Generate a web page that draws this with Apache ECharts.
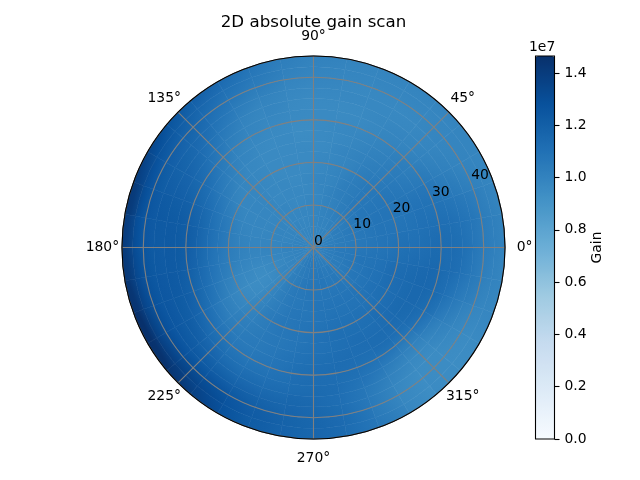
<!DOCTYPE html>
<html><head><meta charset="utf-8">
<script src="https://cdn.jsdelivr.net/npm/echarts@6/dist/echarts.min.js"></script>
<style>html,body{margin:0;padding:0;background:#fff}#c{width:640px;height:480px}</style>
</head><body><div id="c"></div>
<script>
const titleText = '2D absolute gain scan';
const barName = 'Gain';
const barExponent = '1e7';
const gainMax = 1.465e7;
const gainUnit = 1e6;
const blues = ['#f7fbff','#deebf7','#c6dbef','#9ecae1','#6baed6','#4292c6','#2171b5','#08519c','#08306b'];
const radiusTicks = [0,10,20,30,40];
const angleTicks = [0,45,90,135,180,225,270,315];
const radiusMax = 45;
const ringStep = 2.5;
const sectorStep = 10;
// one row per 10 degree sector (from 0), one column per 2.5 unit ring (from 0), in units of 1e6
const gainRows = [
[10.2,10.3,10.4,10.5,10.6,10.7,10.8,10.9,11.0,11.0,11.1,11.2,11.2,11.1,10.9,10.6,10.3,10.1],
[10.1,10.2,10.4,10.5,10.6,10.7,10.8,10.8,10.8,10.9,11.0,11.0,11.0,10.9,10.7,10.5,10.2,10.0],
[10.1,10.2,10.3,10.5,10.6,10.7,10.8,10.8,10.8,10.8,10.8,10.8,10.7,10.5,10.3,10.1,10.0,9.9],
[10.0,10.1,10.3,10.4,10.6,10.7,10.7,10.7,10.7,10.6,10.5,10.4,10.3,10.1,10.0,9.9,9.9,9.9],
[10.0,10.1,10.2,10.3,10.5,10.6,10.6,10.6,10.5,10.4,10.3,10.2,10.0,9.9,9.8,9.8,9.8,9.9],
[10.0,10.0,10.1,10.2,10.3,10.4,10.4,10.4,10.3,10.2,10.1,10.0,9.9,9.8,9.7,9.7,9.8,9.9],
[9.9,10.0,10.0,10.1,10.1,10.2,10.2,10.1,10.0,10.0,9.9,9.8,9.7,9.7,9.7,9.7,9.8,9.9],
[9.9,9.9,10.0,10.0,10.0,10.0,9.9,9.9,9.8,9.8,9.7,9.7,9.6,9.6,9.7,9.7,9.8,9.9],
[9.9,9.9,9.9,9.9,9.8,9.8,9.8,9.7,9.7,9.6,9.6,9.6,9.6,9.6,9.7,9.8,9.9,10.0],
[9.9,9.9,9.9,9.8,9.8,9.7,9.7,9.6,9.6,9.6,9.5,9.5,9.6,9.6,9.7,9.8,10.0,10.1],
[9.9,9.9,9.8,9.8,9.7,9.7,9.6,9.6,9.6,9.6,9.6,9.6,9.7,9.8,9.9,10.1,10.3,10.5],
[9.9,9.9,9.8,9.8,9.7,9.7,9.7,9.6,9.6,9.6,9.6,9.7,9.8,9.9,10.1,10.4,10.7,11.0],
[10.0,9.9,9.9,9.8,9.8,9.7,9.7,9.7,9.7,9.7,9.8,9.9,10.1,10.3,10.6,10.9,11.2,11.6],
[10.0,9.9,9.9,9.8,9.8,9.8,9.8,9.8,9.8,9.9,10.1,10.3,10.6,10.9,11.2,11.5,11.8,12.2],
[10.0,10.0,9.9,9.9,9.8,9.8,9.8,9.8,9.9,10.2,10.5,10.9,11.2,11.5,11.7,11.9,12.3,12.9],
[10.0,10.0,9.9,9.9,9.8,9.8,9.8,9.9,10.2,10.6,11.0,11.4,11.7,11.9,12.0,12.2,12.7,13.5],
[10.0,10.0,9.9,9.9,9.8,9.8,9.9,10.1,10.5,10.9,11.4,11.8,12.1,12.2,12.3,12.4,12.9,14.0],
[10.0,10.0,10.0,9.9,9.9,9.9,10.0,10.2,10.6,11.0,11.5,12.0,12.2,12.3,12.3,12.4,12.8,13.8],
[10.0,10.0,10.0,9.9,9.9,9.9,10.0,10.2,10.5,10.9,11.4,11.9,12.2,12.3,12.3,12.5,13.0,14.0],
[10.0,10.0,9.9,9.8,9.7,9.7,9.8,10.0,10.3,10.7,11.2,11.7,12.1,12.3,12.4,12.6,13.2,14.3],
[10.0,10.0,9.9,9.7,9.6,9.5,9.6,9.7,10.0,10.4,10.9,11.4,11.9,12.2,12.4,12.7,13.4,14.6],
[10.1,10.0,9.9,9.8,9.6,9.5,9.5,9.6,9.8,10.1,10.5,11.0,11.5,12.0,12.3,12.7,13.5,14.5],
[10.1,10.1,10.0,9.9,9.8,9.8,9.8,9.9,10.0,10.2,10.4,10.7,11.1,11.6,12.1,12.6,13.4,14.0],
[10.2,10.2,10.2,10.2,10.2,10.2,10.2,10.3,10.3,10.4,10.5,10.6,10.9,11.3,11.8,12.4,13.0,13.3],
[10.3,10.4,10.4,10.4,10.5,10.5,10.5,10.6,10.6,10.6,10.6,10.7,10.9,11.2,11.6,12.1,12.4,12.5],
[10.3,10.5,10.5,10.6,10.6,10.6,10.7,10.7,10.7,10.7,10.8,10.9,11.0,11.2,11.5,11.8,12.0,12.0],
[10.3,10.5,10.6,10.7,10.7,10.7,10.7,10.8,10.8,10.9,11.0,11.1,11.2,11.3,11.5,11.6,11.7,11.7],
[10.3,10.5,10.6,10.7,10.7,10.8,10.8,10.9,11.0,11.0,11.1,11.2,11.2,11.3,11.3,11.4,11.5,11.5],
[10.3,10.4,10.6,10.7,10.7,10.8,10.9,11.0,11.1,11.1,11.2,11.2,11.1,11.0,10.9,10.9,11.0,11.0],
[10.3,10.4,10.5,10.6,10.7,10.8,10.9,11.0,11.1,11.2,11.2,11.1,10.9,10.6,10.3,10.2,10.2,10.3],
[10.2,10.3,10.5,10.6,10.7,10.8,10.9,11.0,11.1,11.2,11.3,11.1,10.6,10.1,9.8,9.6,9.6,9.6],
[10.2,10.3,10.4,10.5,10.6,10.8,10.9,11.0,11.2,11.3,11.3,11.0,10.4,9.9,9.6,9.5,9.5,9.5],
[10.2,10.3,10.4,10.5,10.7,10.8,11.0,11.1,11.2,11.4,11.4,11.2,10.7,10.1,9.8,9.6,9.5,9.5],
[10.2,10.3,10.4,10.6,10.7,10.9,11.0,11.2,11.3,11.4,11.5,11.4,11.1,10.6,10.2,9.9,9.7,9.7],
[10.2,10.3,10.5,10.6,10.8,10.9,11.0,11.2,11.3,11.4,11.5,11.5,11.3,11.0,10.6,10.3,10.0,9.9],
[10.2,10.3,10.5,10.6,10.7,10.8,10.9,11.0,11.1,11.2,11.3,11.4,11.3,11.2,10.9,10.5,10.2,10.0]
];
const radiusLabelAngle = 22.5;
const angleLabelRadius = 49.6;
const font = 'DejaVu Sans';
const textColor = '#000';
const fontSize = 13.9;

const cells = [];
gainRows.forEach((row, s) => row.forEach((v, r) => {
  cells.push([r * ringStep, (r + 1) * ringStep, s * sectorStep, (s + 1) * sectorStep, v * gainUnit, s, r]);
}));

function shade(v) {
  const t = Math.min(1, Math.max(0, v * gainUnit / gainMax));
  return echarts.color.lerp(t, blues);
}
// Each cell carries its read value at its centre and is painted with a gradient
// following the slope to its neighbouring cells (a shading style; the data is only gainRows).
function renderCell(params, api) {
  const cx = params.coordSys.cx, cy = params.coordSys.cy;
  const r0 = api.value(0), r1 = api.value(1), a0 = api.value(2), a1 = api.value(3);
  const s = api.value(5), r = api.value(6);
  const mid = (a0 + a1) / 2;
  const pIn = api.coord([r0, mid]), pOut = api.coord([r1, mid]);
  const theta = Math.atan2(-(pOut[1] - cy), pOut[0] - cx);
  const half = (a1 - a0) / 2 * Math.PI / 180;
  const pr0 = Math.hypot(pIn[0] - cx, pIn[1] - cy), pr1 = Math.hypot(pOut[0] - cx, pOut[1] - cy);
  const rm = (pr0 + pr1) / 2, dr = pr1 - pr0, da = Math.max(rm * 2 * half, 1);
  const n = gainRows.length, m = gainRows[0].length;
  const v = gainRows[s][r];
  const gA = (gainRows[(s + 1) % n][r] - gainRows[(s - 1 + n) % n][r]) / 2 / da;
  const rHi = Math.min(r + 1, m - 1), rLo = Math.max(r - 1, 0);
  const gR = (gainRows[s][rHi] - gainRows[s][rLo]) / (rHi - rLo) / dr;
  const er = [Math.cos(theta), -Math.sin(theta)], ea = [-Math.sin(theta), -Math.cos(theta)];
  const gx = gR * er[0] + gA * ea[0], gy = gR * er[1] + gA * ea[1];
  const mag = Math.hypot(gx, gy);
  const mx = cx + rm * er[0], my = cy + rm * er[1];
  let fill = shade(v);
  if (mag > 1e-6) {
    const ux = gx / mag, uy = gy / mag, t = Math.max(dr, da);
    const stops = [0, 0.25, 0.5, 0.75, 1].map(o => ({ offset: o, color: shade(v + (2 * o - 1) * t * mag) }));
    fill = new echarts.graphic.LinearGradient(mx - ux * t, my - uy * t, mx + ux * t, my + uy * t, stops, true);
  }
  return {
    type: 'sector',
    shape: { cx, cy, r0: pr0, r: pr1, startAngle: -theta - half, endAngle: -theta + half, clockwise: true },
    style: { fill, stroke: fill, lineWidth: 0.6 }
  };
}
function textEl(x, y, text, align, vAlign) {
  return { type: 'text', x, y,
    style: { text, fill: textColor, font: fontSize + 'px "' + font + '"', textAlign: align, textVerticalAlign: vAlign } };
}
function renderRadiusLabel(params, api) {
  const p = api.coord([api.value(0), radiusLabelAngle]);
  return textEl(p[0] + 0.5, p[1] + 0.5, String(api.value(0)), 'left', 'bottom');
}
function renderAngleLabel(params, api) {
  const p = api.coord([angleLabelRadius, api.value(0)]);
  return textEl(p[0], p[1], api.value(0) + '°', 'center', 'middle');
}

const chart = echarts.init(document.getElementById('c'), null, { renderer: 'canvas' });
chart.setOption({
  animation: false,
  backgroundColor: '#fff',
  textStyle: { fontFamily: font },
  title: [
    { text: titleText, left: 313.5, top: 14, textAlign: 'center', padding: 0,
      textStyle: { fontFamily: font, fontSize: 16.67, fontWeight: 'normal', color: textColor } },
    { text: barExponent, left: 529, top: 40, padding: 0,
      textStyle: { fontFamily: font, fontSize: fontSize, fontWeight: 'normal', color: textColor } }
  ],
  polar: { center: [313.5, 247.5], radius: 191.5 },
  angleAxis: {
    type: 'value', min: 0, max: 360, interval: 45, startAngle: 0, clockwise: false, z: 50,
    axisLine: { show: true, lineStyle: { color: '#000', width: 1.1 } },
    axisTick: { show: false },
    axisLabel: { show: false },
    splitLine: { show: true, lineStyle: { color: '#808080', width: 1.1 } }
  },
  radiusAxis: {
    type: 'value', min: 0, max: radiusMax, interval: 10, z: 50,
    axisLine: { show: false }, axisTick: { show: false }, axisLabel: { show: false },
    splitLine: { show: true, lineStyle: { color: '#808080', width: 1.1 } }
  },
  grid: { show: true, left: 535.5, top: 56, width: 19, height: 383, z: 10, backgroundColor: 'transparent', borderColor: '#000', borderWidth: 1.1 },
  xAxis: { type: 'value', show: false, min: 0, max: 1 },
  yAxis: {
    type: 'value', position: 'right', min: 0, max: gainMax, interval: 2e6, z: 12,
    name: barName, nameLocation: 'middle', nameGap: 36, nameRotate: 90,
    nameTextStyle: { color: textColor, fontFamily: font, fontSize: fontSize },
    axisLine: { show: false, onZero: false },
    axisTick: { show: true, length: 5, lineStyle: { color: '#000', width: 1.1 } },
    axisLabel: { show: true, margin: 10, color: textColor, fontFamily: font, fontSize: fontSize, showMaxLabel: false,
      formatter: v => (v / 1e7).toFixed(1) },
    splitLine: { show: false }
  },
  visualMap: {
    type: 'continuous', show: true, seriesIndex: 0, dimension: 4, min: 0, max: gainMax,
    left: 535.5, top: 56, itemWidth: 19, itemHeight: 383, padding: 0, calculable: false, text: null, showLabel: false,
    inRange: { color: blues }, hoverLink: false, realtime: false, z: 4
  },
  series: [
    { type: 'custom', coordinateSystem: 'polar', data: cells, renderItem: renderCell, silent: true, z: 2,
      encode: { radius: 1, angle: 2 }, clip: false },
    { type: 'custom', coordinateSystem: 'polar', data: radiusTicks.map(r => [r, radiusLabelAngle]), renderItem: renderRadiusLabel, silent: true, z: 60 },
    { type: 'custom', coordinateSystem: 'polar', data: angleTicks.map(a => [a, angleLabelRadius]), renderItem: renderAngleLabel, silent: true, z: 60, encode: { angle: 0, radius: 1 } }
  ]
});
</script></body></html>
